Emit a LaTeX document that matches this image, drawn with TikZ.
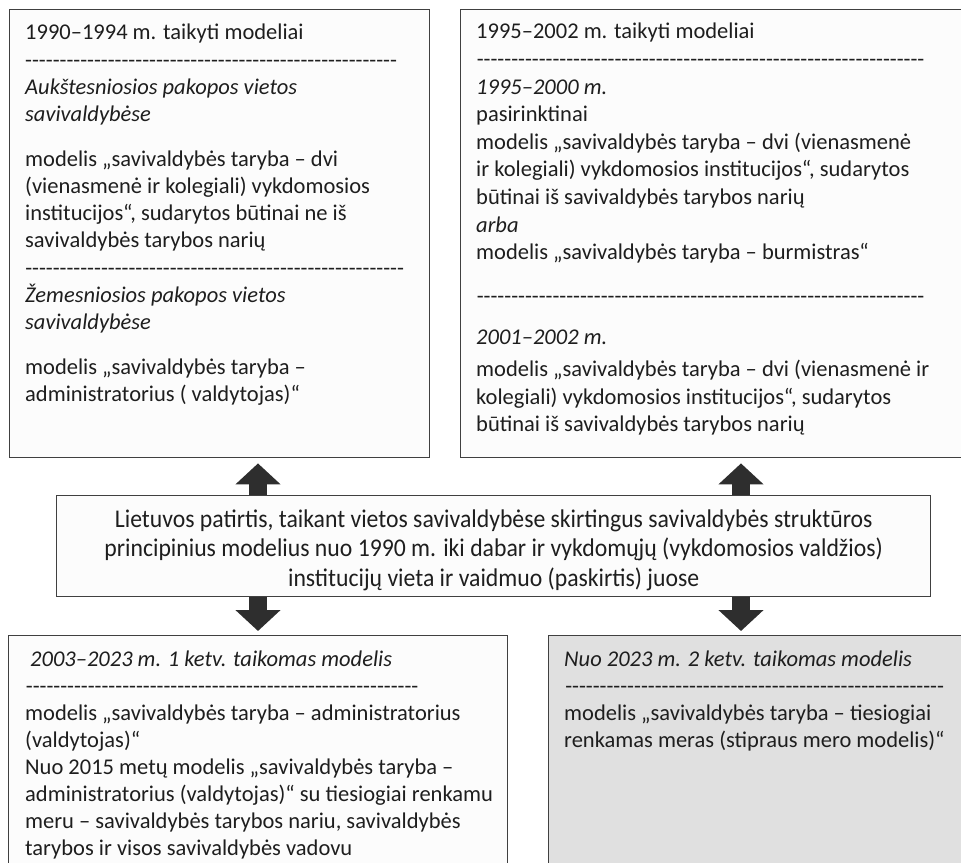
\documentclass[tikz,border=0pt]{standalone}
\usepackage{fontspec}
\setmainfont{Carlito}
\newfontfamily\narrowfont{Carlito}[FakeStretch=0.93]
\usetikzlibrary{arrows.meta,positioning}
\definecolor{edge}{HTML}{404040}
\definecolor{ink}{HTML}{1E1E1E}
\definecolor{panelgray}{HTML}{E0E0E0}
\newcommand\sepline[1]{\hbox to #1{\cleaders\hbox{-}\hfill}}

\begin{document}
\begin{tikzpicture}[x=1pt,y=-1pt,
  >={Triangle[width=44pt,length=21pt]},
  panel/.style={draw=edge,line width=1.4pt,fill=black!1,anchor=north west,
    inner sep=0pt},
  paneltext/.style={anchor=north west,inner sep=0pt,align=left,text=ink,
    font=\fontsize{22.5}{27.3}\selectfont},
  fatarrow/.style={->,line width=18pt,draw=black!82}]
  \useasboundingbox (0,0) rectangle (961,862);

  \node[panel,minimum width=420pt,minimum height=448pt] (early) at (9,9) {};
  \node[panel,minimum width=506pt,minimum height=448pt] (later) at (460,9) {};
  \node[panel,minimum width=874pt,minimum height=101pt] (lt) at (56,495) {};
  \node[panel,minimum width=499pt,minimum height=240pt] (recent) at (8,635) {};
  \node[panel,fill=panelgray,minimum width=420pt,minimum height=240pt] (strong)
    at (548,635) {};

  \node[paneltext] (earlytext) at (25,24)
    {1990–1994 m. taikyti modeliai\\
    \sepline{372pt}\\
    \textit{Aukštesniosios pakopos vietos}\\
    \textit{savivaldybėse}\\[17pt]
    modelis „savivaldybės taryba – dvi\\
    (vienasmenė ir kolegiali) vykdomosios\\
    institucijos“, sudarytos būtinai ne iš\\
    savivaldybės tarybos narių\\
    \sepline{379pt}\\
    \textit{Žemesniosios pakopos vietos}\\
    \textit{savivaldybėse}\\[17pt]
    modelis „savivaldybės taryba –\\
    administratorius ( valdytojas)“};
  \node[paneltext,font=\fontsize{22.5}{27.6}\selectfont] (latertext) at (476,23)
    {1995–2002 m. taikyti modeliai\\
    \sepline{449pt}\\
    \textit{1995–2000 m.}\\
    pasirinktinai\\
    modelis „savivaldybės taryba – dvi (vienasmenė\\
    ir kolegiali) vykdomosios institucijos“, sudarytos\\
    būtinai iš savivaldybės tarybos narių\\
    \textit{arba}\\
    modelis „savivaldybės taryba – burmistras“\\[16pt]
    \sepline{449pt}\\[14pt]
    \textit{2001–2002 m.}\\[4pt]
    modelis „savivaldybės taryba – dvi (vienasmenė ir\\
    kolegiali) vykdomosios institucijos“, sudarytos\\
    būtinai iš savivaldybės tarybos narių};
  \node[paneltext,font=\fontsize{22.5}{27}\selectfont] (recenttext) at (25,651)
    {\hspace{5pt}\textit{2003–2023 m. 1 ketv. taikomas modelis}\\
    \sepline{394pt}\\
    modelis „savivaldybės taryba – administratorius\\
    (valdytojas)“\\
    Nuo 2015 metų modelis „savivaldybės taryba –\\
    administratorius (valdytojas)“ su tiesiogiai renkamu\\
    meru – savivaldybės tarybos nariu, savivaldybės\\
    tarybos ir visos savivaldybės vadovu};
  \node[paneltext,font=\fontsize{22.5}{27}\selectfont] (strongtext) at (564,651)
    {\textit{Nuo 2023 m. 2 ketv. taikomas modelis}\\
    \sepline{381pt}\\
    modelis „savivaldybės taryba – tiesiogiai\\
    renkamas meras (stipraus mero modelis)“};
  \node[inner sep=0pt,align=center,text=ink,
    font=\narrowfont\fontsize{25.5}{29.8}\selectfont] (lttext)
    at ([yshift=-4pt]lt.center)
    {Lietuvos patirtis, taikant vietos savivaldybėse skirtingus savivaldybės struktūros\\
    principinius modelius nuo 1990 m. iki dabar ir vykdomųjų (vykdomosios valdžios)\\
    institucijų vieta ir vaidmuo (paskirtis) juose};

  \coordinate (leftlane) at (258,0);
  \coordinate (rightlane) at (741,0);
  \draw[fatarrow,shorten >=5pt] (lt.north -| leftlane) -- (early.south -| leftlane);
  \draw[fatarrow,shorten >=5pt] (lt.north -| rightlane) -- (later.south -| rightlane);
  \draw[fatarrow,shorten >=4pt] (lt.south -| leftlane) -- (recent.north -| leftlane);
  \draw[fatarrow,shorten >=4pt] (lt.south -| rightlane) -- (strong.north -| rightlane);
\end{tikzpicture}
\end{document}
